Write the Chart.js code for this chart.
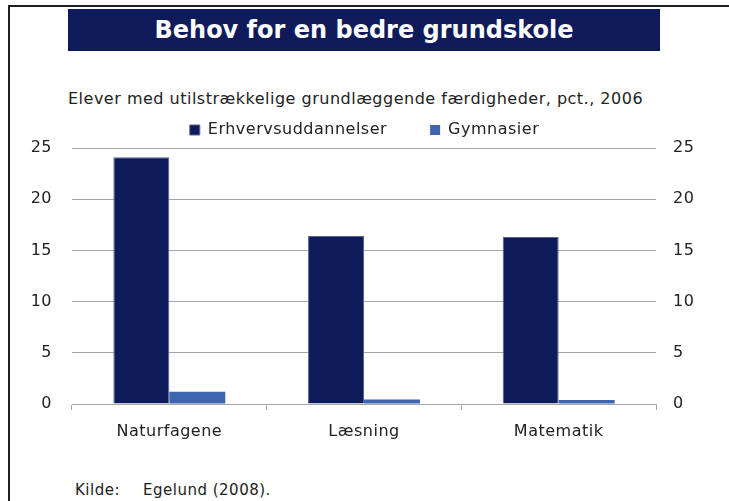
<!DOCTYPE html>
<html>
<head>
<meta charset="utf-8">
<script src="https://cdn.jsdelivr.net/npm/chart.js@4.4.0/dist/chart.umd.min.js"></script>
<style>
  html, body { margin: 0; padding: 0; background: #fff; }
  body { width: 729px; height: 501px; position: relative; overflow: hidden; font-family: "DejaVu Sans", sans-serif; color: #222; }
  #ramme { position: absolute; left: 8px; top: 5px; width: 730px; height: 510px; border-left: 2px solid #231f20; border-top: 2px solid #231f20; }
  #titel { position: absolute; left: 68px; top: 9px; width: 592px; height: 42px; background: #0f1a5b; color: #fff; font-weight: bold; font-size: 24px; line-height: 42px; text-align: center; }
  #undertitel { position: absolute; left: 68px; top: 89px; font-size: 16px; letter-spacing: 0.5px; white-space: nowrap; }
  #kilde { position: absolute; left: 75px; top: 481px; font-size: 15px; letter-spacing: 0.5px; white-space: nowrap; }
  #kilde span { display: inline-block; width: 68px; }
  #boks { position: absolute; left: 0; top: 79px; width: 729px; height: 371px; }
</style>
</head>
<body>
<div id="ramme"></div>
<div id="titel">Behov for en bedre grundskole</div>
<div id="undertitel">Elever med utilstrækkelige grundlæggende færdigheder, pct., 2006</div>
<div id="boks"><canvas id="grafik"></canvas></div>
<div id="kilde"><span>Kilde:</span>Egelund (2008).</div>
<script>
// Data
const kategorier = ["Naturfagene", "Læsning", "Matematik"];
const erhvervsuddannelser = [24.1, 16.4, 16.3];
const gymnasier = [1.2, 0.45, 0.4];
const yTicks = [0, 5, 10, 15, 20, 25];

const skrift = { family: "DejaVu Sans", size: 16 };
const graa = "#a6a6a6";

// lidt bredere tekst, som i originalen
const spacing = {
  id: 'spacing',
  beforeLayout: (chart) => { chart.ctx.letterSpacing = '0.5px'; },
  beforeDraw: (chart) => { chart.ctx.letterSpacing = '0.5px'; }
};

const ctx = document.getElementById("grafik").getContext("2d");
new Chart(ctx, {
  type: 'bar',
  data: {
    labels: kategorier,
    datasets: [
      { label: 'Erhvervsuddannelser', data: erhvervsuddannelser, backgroundColor: '#0f1a5b', borderColor: '#5a6390', borderWidth: 1, yAxisID: 'y' },
      { label: 'Gymnasier', data: gymnasier, backgroundColor: '#3d65b0', borderWidth: 0, yAxisID: 'y' }
    ]
  },
  plugins: [spacing],
  options: {
    responsive: true,
    maintainAspectRatio: false,
    animation: false,
    layout: { padding: 0 },
    datasets: { bar: { categoryPercentage: 0.575, barPercentage: 1 } },
    plugins: {
      tooltip: { enabled: false },
      legend: {
        position: 'top',
        labels: { font: skrift, color: '#222', boxWidth: 10, boxHeight: 10, padding: 43 }
      }
    },
    scales: {
      x: {
        grid: { display: true, drawOnChartArea: false, drawTicks: true, tickLength: 6, color: graa, offset: true },
        border: { display: true, color: graa },
        ticks: { font: skrift, color: '#222', padding: 12 },
        afterFit: (s) => { s.height = 46; }
      },
      y: {
        position: 'left',
        min: 0, max: 25,
        afterBuildTicks: (s) => { s.ticks = yTicks.map(v => ({ value: v })); },
        grid: { color: graa, drawTicks: false },
        border: { display: false },
        ticks: { font: skrift, color: '#222', padding: 20 },
        afterFit: (s) => { s.width = 72; }
      },
      y2: {
        position: 'right',
        min: 0, max: 25,
        afterBuildTicks: (s) => { s.ticks = yTicks.map(v => ({ value: v })); },
        grid: { display: false, drawTicks: false },
        border: { display: false },
        ticks: { font: skrift, color: '#222', padding: 17 },
        afterFit: (s) => { s.width = 73; }
      }
    }
  }
});
</script>
</body>
</html>
